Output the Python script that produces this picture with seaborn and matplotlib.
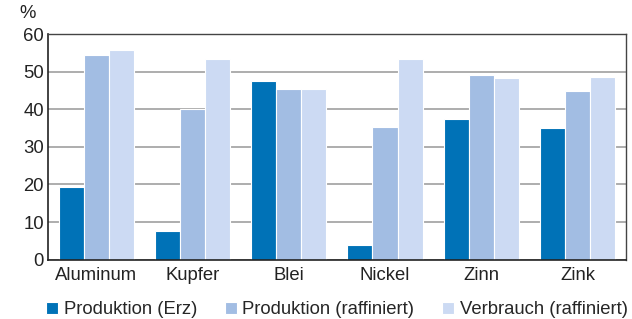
import pandas as pd
import numpy as np
import seaborn as sns
import matplotlib.pyplot as plt
from matplotlib.ticker import FixedLocator

# data
metalle = ["Aluminum", "Kupfer", "Blei", "Nickel", "Zinn", "Zink"]
serien = ["Produktion (Erz)", "Produktion (raffiniert)", "Verbrauch (raffiniert)"]
erz = [19.2, 7.7, 47.5, 3.9, 37.3, 35.0]
raffiniert = [54.4, 40.0, 45.5, 35.2, 49.1, 44.8]
verbrauch = [55.7, 53.5, 45.5, 53.3, 48.4, 48.6]
farben = ["#0072b7", "#a2bde3", "#ccdaf3"]

df = pd.DataFrame({
    "Metall": metalle * 3,
    "Serie": [serien[0]] * 6 + [serien[1]] * 6 + [serien[2]] * 6,
    "Wert": erz + raffiniert + verbrauch,
})

sns.set_style("white")
plt.rcParams["font.family"] = ["Liberation Sans", "DejaVu Sans"]
fs = 13.3

fig = plt.figure(figsize=(6.32, 3.19), dpi=100)
ax = fig.add_axes([0.076, 0.186, 0.914, 0.707])

sns.barplot(data=df, x="Metall", y="Wert", hue="Serie", order=metalle,
            hue_order=serien, palette=farben, width=0.78, gap=0,
            edgecolor="white", linewidth=0.8, saturation=1, ax=ax, legend=True)

ax.set_ylim(0, 60)
ax.set_xlim(-0.5, 5.5)
ax.set_yticks(range(0, 61, 10))
ax.yaxis.grid(True, color="#a0a0a0", linewidth=1.2)
ax.set_axisbelow(True)
ax.set_xlabel("")
ax.set_ylabel("")
ax.tick_params(axis="both", labelsize=fs, colors="#222222", length=0, pad=3)
ax.tick_params(axis="x", pad=5)
ax.xaxis.set_minor_locator(FixedLocator(np.arange(-0.5, 6, 1)))
ax.tick_params(axis="x", which="minor", length=4, width=1, color="#333333", direction="out")

for s in ["left", "bottom"]:
    ax.spines[s].set_color("#222222")
    ax.spines[s].set_linewidth(1.2)
for s in ["top", "right"]:
    ax.spines[s].set_color("#444444")
    ax.spines[s].set_linewidth(1.0)

fig.text(0.030, 0.958, "%", fontsize=fs, color="#222222", ha="left", va="center")

ax.legend(loc="center", bbox_to_anchor=(0.5, -0.222), ncol=3, frameon=False,
          fontsize=fs, handlelength=0.65, handleheight=0.65, handletextpad=0.3,
          columnspacing=1.5, borderaxespad=0, borderpad=0)

fig.savefig("out.png", dpi=100)
